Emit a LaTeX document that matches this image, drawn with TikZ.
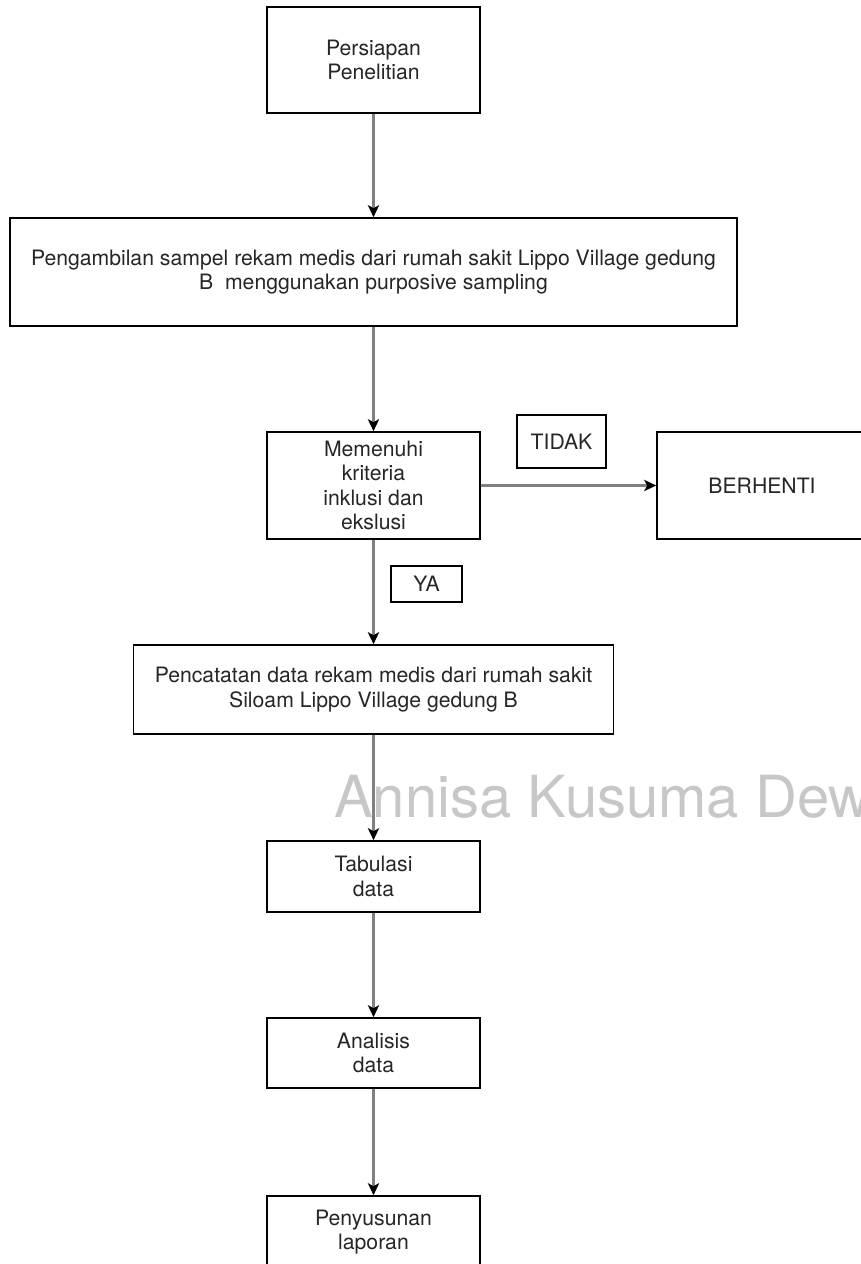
\documentclass[tikz,border=0pt]{standalone}
\usepackage{fontspec}
\setmainfont{TeX Gyre Heros}
\usetikzlibrary{arrows.meta}

\tikzset{
	kotak/.style={draw=black, line width=0.8pt, inner sep=0pt, align=center, text=black!85, font=\fontsize{10.6}{12.3}\selectfont},
	panah/.style={draw=black!50, line width=1.4pt, -{Stealth[length=6pt, width=5.6pt, inset=1.5pt, black]}}
}

\begin{document}
\begin{tikzpicture}[x=0.5pt, y=-0.5pt]
				\useasboundingbox (0,0) rectangle (861,1264);
				\fill[white] (0,0) rectangle (861,1264);
				
				\node[anchor=base west, text=black!22, font=\fontsize{29}{34}\selectfont] (tanda) at (327,817) {Annisa Kusuma Dew};
				
				\node[kotak, minimum width=106.5pt, minimum height=53pt] (persiapan) at (373.5,60) {Persiapan\\Penelitian};
				\node[kotak, minimum width=363.5pt, minimum height=54pt] (sampel) at (373.5,272) {Pengambilan sampel rekam medis dari rumah sakit Lippo Village gedung\\B\ \ menggunakan purposive sampling};
				\node[kotak, minimum width=106.5pt, minimum height=53.5pt] (kriteria) at (373.5,485.5) {Memenuhi\\kriteria\\inklusi dan\\ekslusi};
				\node[kotak, minimum width=105pt, minimum height=53.5pt] (berhenti) at (762,485.5) {BERHENTI};
				\node[kotak, minimum width=44.5pt, minimum height=26.5pt] (tidak) at (561.5,441.5) {TIDAK};
				\node[kotak, minimum width=35.5pt, minimum height=18pt] (ya) at (426.5,584) {YA};
				\node[kotak, minimum width=240pt, minimum height=44.5pt] (pencatatan) at (373.5,689.5) {Pencatatan data rekam medis dari rumah sakit\\Siloam Lippo Village gedung B};
				\node[kotak, minimum width=106.5pt, minimum height=35.5pt] (tabulasi) at (373.5,876.5) {Tabulasi\\data};
				\node[kotak, minimum width=106.5pt, minimum height=35pt] (analisis) at (373.5,1053) {Analisis\\data};
				\node[kotak, minimum width=106.5pt, minimum height=36pt] (laporan) at (373.5,1232) {Penyusunan\\laporan};
				
				\draw[panah] (persiapan) -- (sampel);
				\draw[panah] (sampel) -- (kriteria);
				\draw[panah] (kriteria) -- (berhenti);
				\draw[panah] (kriteria) -- (pencatatan);
				\draw[panah] (pencatatan) -- (tabulasi);
				\draw[panah] (tabulasi) -- (analisis);
				\draw[panah] (analisis) -- (laporan);
				\end{tikzpicture}
\end{document}
